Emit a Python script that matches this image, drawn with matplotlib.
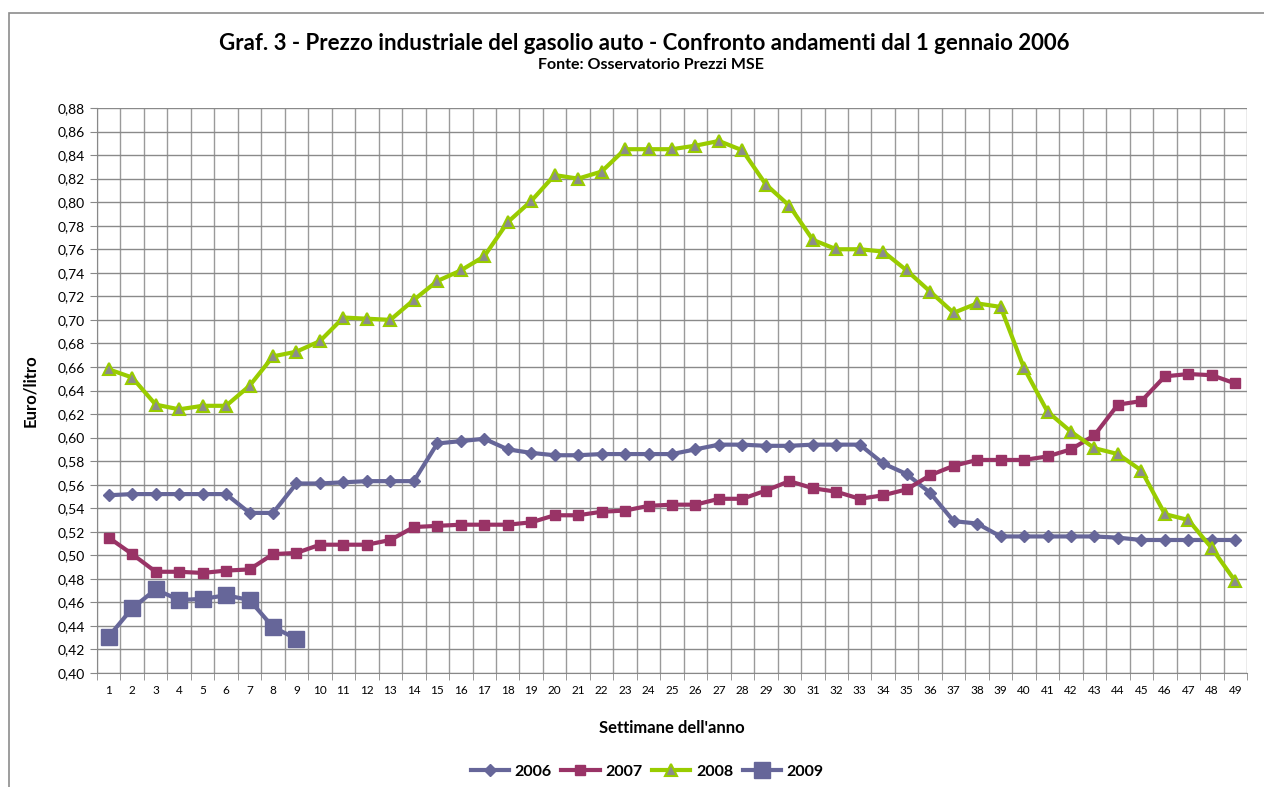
import numpy as np
import matplotlib
matplotlib.use("Agg")
import matplotlib.pyplot as plt
from matplotlib.patches import Rectangle
from matplotlib.ticker import FuncFormatter, FixedLocator

plt.rcParams["font.family"] = ["Lato", "DejaVu Sans"]

# Dati (euro/litro) per settimana
settimane = list(range(1, 50))

p2006 = [0.551, 0.552, 0.552, 0.552, 0.552, 0.552, 0.536, 0.536, 0.561, 0.561,
         0.562, 0.563, 0.563, 0.563, 0.595, 0.597, 0.599, 0.590, 0.587, 0.585,
         0.585, 0.586, 0.586, 0.586, 0.586, 0.590, 0.594, 0.594, 0.593, 0.593,
         0.594, 0.594, 0.594, 0.578, 0.569, 0.553, 0.529, 0.527, 0.516, 0.516,
         0.516, 0.516, 0.516, 0.515, 0.513, 0.513, 0.513, 0.513, 0.513]

p2007 = [0.515, 0.501, 0.486, 0.486, 0.485, 0.487, 0.488, 0.501, 0.502, 0.509,
         0.509, 0.509, 0.513, 0.524, 0.525, 0.526, 0.526, 0.526, 0.528, 0.534,
         0.534, 0.537, 0.538, 0.542, 0.543, 0.543, 0.548, 0.548, 0.555, 0.563,
         0.557, 0.554, 0.548, 0.551, 0.556, 0.568, 0.576, 0.581, 0.581, 0.581,
         0.584, 0.590, 0.602, 0.628, 0.631, 0.652, 0.654, 0.653, 0.646]

p2008 = [0.658, 0.651, 0.628, 0.624, 0.627, 0.627, 0.644, 0.669, 0.673, 0.682,
         0.702, 0.701, 0.700, 0.717, 0.733, 0.742, 0.754, 0.783, 0.801, 0.823,
         0.820, 0.826, 0.845, 0.845, 0.845, 0.848, 0.852, 0.844, 0.815, 0.797,
         0.768, 0.760, 0.760, 0.758, 0.742, 0.724, 0.706, 0.714, 0.711, 0.659,
         0.622, 0.605, 0.591, 0.586, 0.572, 0.535, 0.530, 0.506, 0.478]

p2009 = [0.431, 0.455, 0.471, 0.462, 0.463, 0.466, 0.462, 0.439, 0.429]

fig = plt.figure(figsize=(12.64, 7.87), dpi=100)
ax = fig.add_axes([97 / 1264, 1 - 673 / 787, (1247 - 97) / 1264, (673 - 108) / 787])

# cornice esterna del grafico
fig.patches.append(Rectangle((9 / 1264, -0.1), 1.2, 1 - 13 / 787 + 0.1,
                             transform=fig.transFigure, fill=False,
                             edgecolor="#8c8c8c", linewidth=1.2))

blu = "#666699"
ax.plot(settimane, p2006, color=blu, lw=3, marker="D", ms=6, label="2006", zorder=3)
ax.plot(settimane, p2007, color="#993366", lw=3, marker="s", ms=7, label="2007", zorder=3)
ax.plot(settimane, p2008, color="#99CC00", lw=3, marker="^", ms=8,
        markerfacecolor="#8c8c8c", markeredgecolor="#99CC00", markeredgewidth=1.5,
        label="2008", zorder=3)
ax.plot(settimane[:len(p2009)], p2009, color=blu, lw=3, marker="s", ms=11,
        label="2009", zorder=4)

ax.set_xlim(0.5, 49.5)
ax.set_ylim(0.40, 0.88)
ax.set_yticks(np.arange(0.40, 0.8801, 0.02))
ax.yaxis.set_major_formatter(FuncFormatter(lambda v, p: f"{v:.2f}".replace(".", ",")))
ax.set_xticks(settimane)
ax.xaxis.set_minor_locator(FixedLocator(np.arange(0.5, 50, 1)))
ax.tick_params(axis="x", which="major", length=0, labelsize=8.5, pad=9)
ax.tick_params(axis="x", which="minor", length=5, color="#888888")
ax.tick_params(axis="y", length=5, color="#888888", labelsize=10, pad=4)

ax.grid(True, axis="y", color="#8a8a8a", lw=1)
ax.grid(True, axis="x", which="minor", color="#9a9a9a", lw=1)
ax.set_axisbelow(True)
for side in ["top", "right"]:
    ax.spines[side].set_visible(False)
ax.spines["left"].set_color("#888888")
ax.spines["bottom"].set_color("#888888")

fig.text(0.51, 1 - 43 / 787, "Graf. 3 - Prezzo industriale del gasolio auto - Confronto andamenti dal 1 gennaio 2006",
         ha="center", va="center", fontsize=16, fontweight="bold")
fig.text(0.515, 1 - 65 / 787, "Fonte: Osservatorio Prezzi MSE",
         ha="center", va="center", fontsize=11.5, fontweight="bold")

ax.set_xlabel("Settimane dell'anno", fontsize=12, fontweight="bold", labelpad=17)
ax.set_ylabel("Euro/litro", fontsize=12, fontweight="bold", labelpad=14)

fig.legend(loc="center", bbox_to_anchor=(0.512, 1 - 772 / 787), ncol=4, frameon=False,
           prop={"weight": "bold", "size": 11.5}, handlelength=2.4,
           columnspacing=0.6, handletextpad=0.35)

plt.savefig("out.png", dpi=100)
plt.close()
